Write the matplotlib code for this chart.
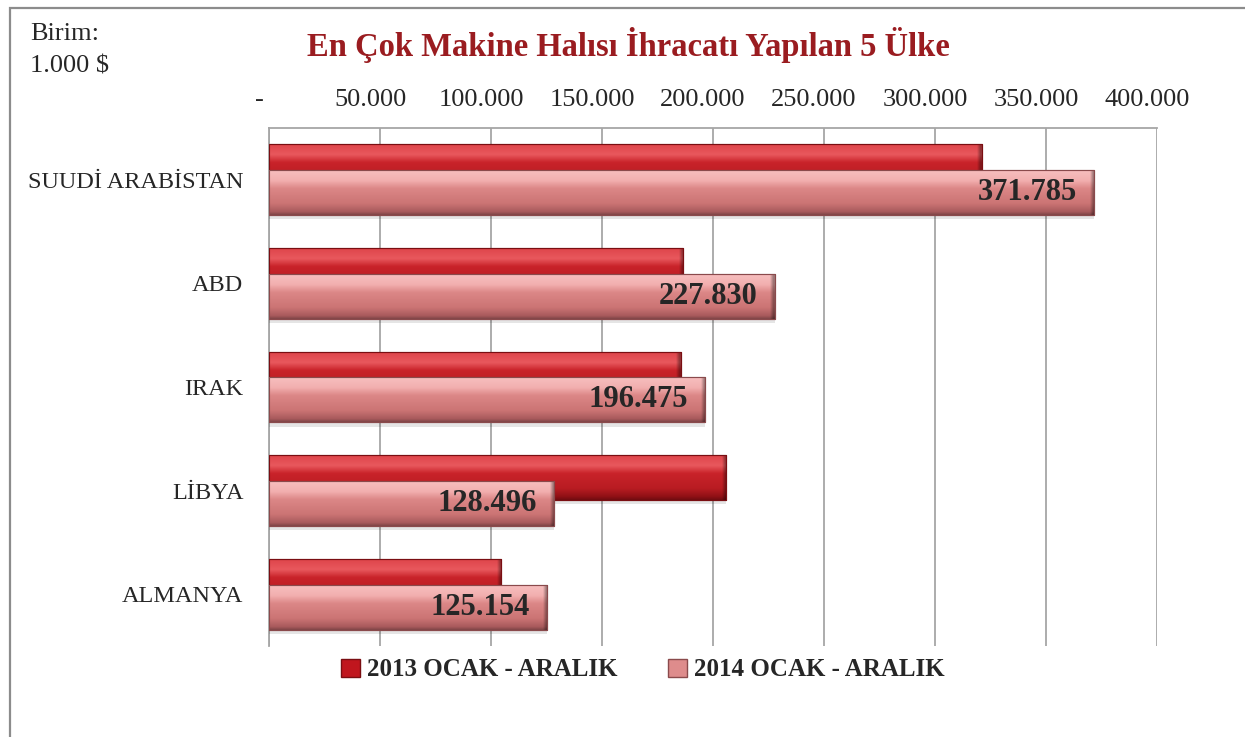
import numpy as np
import matplotlib
matplotlib.use("Agg")
import matplotlib.pyplot as plt
import matplotlib.transforms as mtransforms
from matplotlib.patches import Rectangle, Patch
from matplotlib.colors import LinearSegmentedColormap

# ---- data ----
countries = ["SUUDİ ARABİSTAN", "ABD", "IRAK", "LİBYA", "ALMANYA"]
values_2013 = [321000, 186500, 185500, 205800, 104500]
values_2014 = [371785, 227830, 196475, 128496, 125154]
series_names = ["2013 OCAK - ARALIK", "2014 OCAK - ARALIK"]
x_ticks = [0, 50000, 100000, 150000, 200000, 250000, 300000, 350000, 400000]
x_tick_labels = ["-", "50.000", "100.000", "150.000", "200.000",
                 "250.000", "300.000", "350.000", "400.000"]
value_labels_2014 = ["371.785", "227.830", "196.475", "128.496", "125.154"]
title = "En Çok Makine Halısı İhracatı Yapılan 5 Ülke"
unit_lines = ["Birim:", "1.000 $"]

plt.rcParams['font.family'] = ['Liberation Serif', 'DejaVu Serif']

W, H = 1245, 737
fig = plt.figure(figsize=(W / 100, H / 100), dpi=100)
fig.patch.set_facecolor("white")

# outer frame
fig.patches.append(Rectangle((10 / W, -0.05), 1.1, (1 - 8 / H) + 0.05,
                             transform=fig.transFigure, fill=False,
                             edgecolor="#8C8C8C", linewidth=1.6, zorder=0))

ax = fig.add_axes([269 / W, 1 - 646 / H, (1157 - 269) / W, (646 - 128) / H])

y = np.arange(len(countries))
bh = 0.435
off = 0.125

# gradient colormaps
cm13 = LinearSegmentedColormap.from_list("c13", [
    (0.0, "#9E1218"), (0.05, "#E0474D"), (0.25, "#E8585D"), (0.42, "#C9232A"),
    (0.75, "#B81C22"), (0.93, "#8E1015"), (1.0, "#6E0C10")])
cm14 = LinearSegmentedColormap.from_list("c14", [
    (0.0, "#C06A6E"), (0.05, "#F6BDBD"), (0.25, "#F2AFAF"), (0.42, "#DC8787"),
    (0.75, "#CB7474"), (0.93, "#A85A5C"), (1.0, "#7E4446")])
grad = np.linspace(0, 1, 256).reshape(-1, 1)
edge_cmap = LinearSegmentedColormap.from_list(
    "e", [(0, (0, 0, 0, 0)), (1, (0, 0, 0, 1))])

def draw_series(vals, yoff, cmap, edge, z):
    # soft shadow
    ax.barh(y + yoff + 0.04, vals, height=bh, left=0, color="#000000",
            alpha=0.10, linewidth=0, zorder=z - 0.5)
    bars = ax.barh(y + yoff, vals, height=bh, color=cmap(0.5),
                   edgecolor=edge, linewidth=0.8, zorder=z)
    for b in bars:
        x0, y0, w, h = b.get_x(), b.get_y(), b.get_width(), b.get_height()
        im = ax.imshow(grad, cmap=cmap, aspect="auto", origin="upper",
                       extent=[x0, x0 + w, y0 + h, y0], zorder=z + 0.1,
                       interpolation="bilinear")
        im.set_clip_path(b)
        # darker right end (bevel)
        ax.imshow(np.array([[0.0, 0.0, 0.35]]), cmap=edge_cmap, vmin=0, vmax=1,
                  aspect="auto", extent=[x0 + w - 4200, x0 + w, y0 + h, y0],
                  zorder=z + 0.2, interpolation="bilinear").set_clip_path(b)
        ax.add_patch(Rectangle((x0, y0), w, h, fill=False, edgecolor=edge,
                               linewidth=0.8, zorder=z + 0.3))
    return bars

draw_series(values_2013, -off, cm13, "#7A0E12", 3)
draw_series(values_2014, off, cm14, "#8A4A4C", 4)

# value labels
for yi, v, lab in zip(y, values_2014, value_labels_2014):
    t = mtransforms.offset_copy(ax.transData, fig=fig, x=-17, y=0, units="dots")
    ax.text(v, yi + off, lab, transform=t, ha="right", va="center",
            fontsize=22, fontweight="bold", color="#262626", zorder=10)

ax.set_xlim(0, 400000)
ax.set_ylim(len(countries) - 0.5, -0.5)

# grid
ax.set_xticks(x_ticks)
ax.grid(axis="x", color="#A6A6A6", linewidth=1.3, zorder=1)
ax.set_axisbelow(True)
ax.xaxis.tick_top()
ax.set_xticklabels(x_tick_labels, fontsize=19, color="#262626")
ax.tick_params(axis="x", length=0, pad=12)
shift = mtransforms.ScaledTranslation(-10 / 100, 0, fig.dpi_scale_trans)
for lab in ax.get_xticklabels():
    lab.set_transform(lab.get_transform() + shift)

ax.set_yticks(y)
ax.set_yticklabels(countries, fontsize=17.5, color="#262626")
ax.tick_params(axis="y", length=0, pad=18.5)

for s in ["right", "bottom"]:
    ax.spines[s].set_visible(False)
for s in ["top", "left"]:
    ax.spines[s].set_color("#A6A6A6")
    ax.spines[s].set_linewidth(1.3)

# title & unit
fig.text(628 / W, 1 - 45 / H, title, ha="center", va="center",
         fontsize=23.5, fontweight="bold", color="#9A1C20")
fig.text(30 / W, 1 - 40 / H, unit_lines[0], ha="left", va="baseline",
         fontsize=19, color="#262626")
fig.text(30 / W, 1 - 72 / H, unit_lines[1], ha="left", va="baseline",
         fontsize=19, color="#262626")

# legend
handles = [Patch(facecolor="#C0161E", edgecolor="#7A0E12"),
           Patch(facecolor="#DE8C8C", edgecolor="#8A4A4C")]
fig.legend(handles, series_names, loc="center", bbox_to_anchor=(643 / W, 1 - 670 / H),
           ncol=2, frameon=False, handlelength=0.75, handleheight=0.75,
           handletextpad=0.3, columnspacing=2.0,
           prop={"size": 18, "weight": "bold"}, labelcolor="#262626")

fig.savefig("out.png", dpi=100, facecolor="white")
